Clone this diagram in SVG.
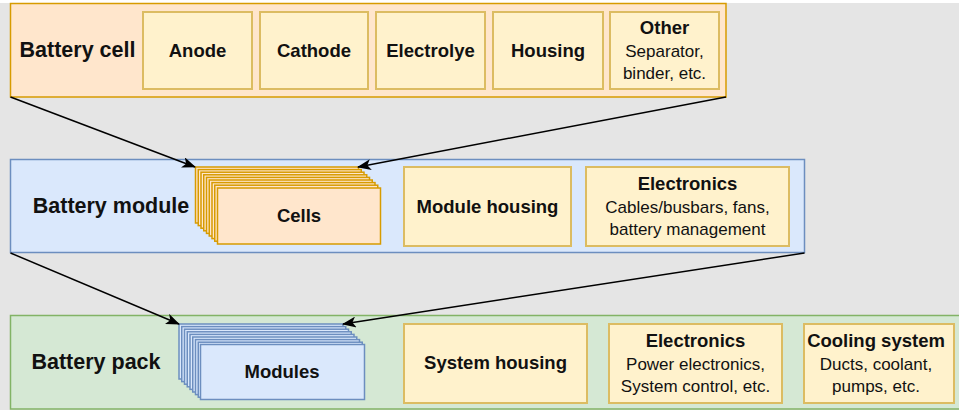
<svg xmlns="http://www.w3.org/2000/svg" width="959" height="410" viewBox="0 0 959 410">
  <defs>
    <marker id="arrow" viewBox="0 0 14 11" refX="13" refY="5.5" markerWidth="14" markerHeight="11" markerUnits="userSpaceOnUse" orient="auto">
      <path d="M0,0 L14,5.5 L0,11 L3.5,5.5 Z" fill="#000"/>
    </marker>
    <style>
      text { font-family: "Liberation Sans", Arial, sans-serif; fill: #111; text-anchor: middle; }
      .title { font-size: 21.5px; font-weight: bold; }
      .b { font-size: 18.5px; font-weight: bold; }
      .r { font-size: 17px; }
      .cell { fill: #ffe6cc; stroke: #d79b00; stroke-width: 1.5; }
      .module { fill: #dae8fc; stroke: #6c8ebf; stroke-width: 1.5; }
      .pack { fill: #d5e8d4; stroke: #82b366; stroke-width: 1.5; }
      .part { fill: #fff2cc; stroke: #dcbc62; stroke-width: 2; }
      .conn { fill: none; stroke: #000; stroke-width: 1.5; }
    </style>
  </defs>

  <!-- canvas -->
  <rect x="0" y="0" width="959" height="410" fill="#ffffff"/>
  <rect x="0" y="3" width="959" height="407" fill="#e5e5e5"/>

  <!-- level 1: battery cell -->
  <g id="battery-cell">
    <rect class="cell" x="10.5" y="3.5" width="715.5" height="93.5"/>
    <text class="title" x="77.5" y="57">Battery cell</text>
  </g>
  <g id="anode">
    <rect class="part" x="143" y="12" width="109" height="77"/>
    <text class="b" x="197.5" y="57">Anode</text>
  </g>
  <g id="cathode">
    <rect class="part" x="260" y="12" width="108" height="77"/>
    <text class="b" x="314" y="57">Cathode</text>
  </g>
  <g id="electrolyte">
    <rect class="part" x="376" y="12" width="109" height="77"/>
    <text class="b" x="430.5" y="57">Electrolye</text>
  </g>
  <g id="housing">
    <rect class="part" x="493" y="12" width="110" height="77"/>
    <text class="b" x="548" y="57">Housing</text>
  </g>
  <g id="other">
    <rect class="part" x="610" y="12" width="109" height="77"/>
    <text class="b" x="664.5" y="34">Other</text>
    <text class="r" x="664.5" y="56.5">Separator,</text>
    <text class="r" x="664.5" y="79">binder, etc.</text>
  </g>

  <!-- level 2: battery module -->
  <g id="battery-module">
    <rect class="module" x="10.5" y="159.5" width="794" height="93"/>
    <text class="title" x="111" y="213">Battery module</text>
  </g>
  <g id="cells">
    <rect class="cell" x="195.5" y="167" width="163" height="56"/>
    <rect class="cell" x="198.25" y="169.6" width="163" height="56"/>
    <rect class="cell" x="201" y="172.2" width="163" height="56"/>
    <rect class="cell" x="203.75" y="174.8" width="163" height="56"/>
    <rect class="cell" x="206.5" y="177.4" width="163" height="56"/>
    <rect class="cell" x="209.25" y="180" width="163" height="56"/>
    <rect class="cell" x="212" y="182.6" width="163" height="56"/>
    <rect class="cell" x="214.75" y="185.2" width="163" height="56"/>
    <rect class="cell" x="217.5" y="188" width="163" height="56"/>
    <text class="b" x="299" y="222">Cells</text>
  </g>
  <g id="module-housing">
    <rect class="part" x="404" y="167" width="167" height="79"/>
    <text class="b" x="487.5" y="213">Module housing</text>
  </g>
  <g id="module-electronics">
    <rect class="part" x="586" y="167" width="203" height="79"/>
    <text class="b" x="687.5" y="190">Electronics</text>
    <text class="r" x="687.5" y="212.5">Cables/busbars, fans,</text>
    <text class="r" x="687.5" y="235">battery management</text>
  </g>

  <!-- level 3: battery pack -->
  <g id="battery-pack">
    <rect class="pack" x="10.5" y="315.5" width="960" height="93.5"/>
    <text class="title" x="96" y="369">Battery pack</text>
  </g>
  <g id="modules">
    <rect class="module" x="179" y="324" width="164" height="55"/>
    <rect class="module" x="181.75" y="326.6" width="164" height="55"/>
    <rect class="module" x="184.5" y="329.2" width="164" height="55"/>
    <rect class="module" x="187.25" y="331.8" width="164" height="55"/>
    <rect class="module" x="190" y="334.4" width="164" height="55"/>
    <rect class="module" x="192.75" y="337" width="164" height="55"/>
    <rect class="module" x="195.5" y="339.6" width="164" height="55"/>
    <rect class="module" x="198.25" y="342.2" width="164" height="55"/>
    <rect class="module" x="200.5" y="344.5" width="164" height="55"/>
    <text class="b" x="282" y="378">Modules</text>
  </g>
  <g id="system-housing">
    <rect class="part" x="404" y="324" width="183" height="79"/>
    <text class="b" x="495.5" y="369">System housing</text>
  </g>
  <g id="pack-electronics">
    <rect class="part" x="609" y="324" width="173" height="79"/>
    <text class="b" x="695.5" y="347">Electronics</text>
    <text class="r" x="695.5" y="369.5">Power electronics,</text>
    <text class="r" x="695.5" y="392">System control, etc.</text>
  </g>
  <g id="cooling-system">
    <rect class="part" x="804" y="324" width="150" height="79"/>
    <text class="b" x="876" y="347">Cooling system</text>
    <text class="r" x="876" y="369.5">Ducts, coolant,</text>
    <text class="r" x="876" y="392">pumps, etc.</text>
  </g>

  <!-- connectors -->
  <g id="connectors">
    <line class="conn" x1="10.5" y1="97" x2="195" y2="167" marker-end="url(#arrow)"/>
    <line class="conn" x1="726" y1="97" x2="358" y2="167" marker-end="url(#arrow)"/>
    <line class="conn" x1="10.5" y1="253" x2="179" y2="324" marker-end="url(#arrow)"/>
    <line class="conn" x1="804.5" y1="253" x2="343" y2="324" marker-end="url(#arrow)"/>
  </g>
</svg>
